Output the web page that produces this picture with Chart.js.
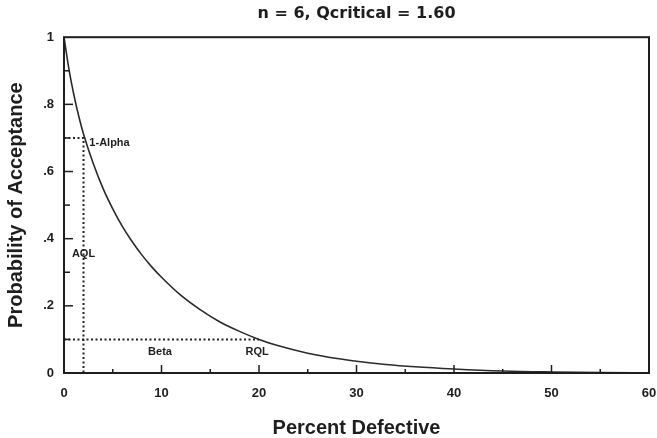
<!DOCTYPE html>
<html>
<head>
<meta charset="utf-8">
<script src="https://cdn.jsdelivr.net/npm/chart.js@4"></script>
<style>
  html, body { margin: 0; padding: 0; background: #fff; overflow: hidden; }
</style>
</head>
<body>
<canvas id="ocChart" width="657" height="438"></canvas>
<script>
// OC curve
const pctDefective = [0, 0.5, 1, 1.5, 2, 3, 4, 5, 6, 7, 8, 9, 10, 12, 14, 16, 18, 20, 22, 25, 28, 30, 33, 36, 40, 45, 50, 55, 60];
const probAccept = [1.0, 0.906, 0.83, 0.766, 0.712, 0.624, 0.55, 0.489, 0.436, 0.391, 0.351, 0.316, 0.285, 0.231, 0.188, 0.152, 0.124, 0.1, 0.081, 0.059, 0.043, 0.035, 0.0255, 0.0186, 0.012, 0.006, 0.003, 0.0012, 0.0004];

const aql = 2;
const oneMinusAlpha = 0.7;
const rql = 20;
const beta = 0.1;

const xTicks = [0, 10, 20, 30, 40, 50, 60];
const yTickLabels = ['0', '.2', '.4', '.6', '.8', '1'];

const chartTitle = 'n = 6, Qcritical = 1.60';

var ink = '#1e1e1e';
var helv = '"Liberation Sans", Arial, sans-serif';

function pts(xs, ys) {
  var out = [];
  for (var i = 0; i < xs.length; i++) out.push({x: xs[i], y: ys[i]});
  return out;
}

// box, inward ticks and the small labels
const framePlugin = {
  id: 'frame',
  afterDraw(chart) {
    var ctx = chart.ctx;
    var a = chart.chartArea;
    var xs = chart.scales.x, ys = chart.scales.y;
    ctx.save();
    ctx.strokeStyle = ink;
    ctx.lineWidth = 2;
    ctx.strokeRect(a.left, a.top, a.right - a.left, a.bottom - a.top);

    ctx.lineWidth = 1.5;
    for (var v = 5; v < 60; v += 5) {
      var px = xs.getPixelForValue(v);
      var len = (v % 10 === 0) ? 8 : 4;
      ctx.beginPath();
      ctx.moveTo(px, a.bottom);
      ctx.lineTo(px, a.bottom - len);
      ctx.stroke();
    }
    for (var k = 1; k < 10; k++) {
      var py = ys.getPixelForValue(k / 10);
      var l = (k % 2 === 0) ? 9 : 6;
      ctx.beginPath();
      ctx.moveTo(a.left, py);
      ctx.lineTo(a.left + l, py);
      ctx.stroke();
    }

    ctx.fillStyle = ink;
    ctx.font = 'bold 11px ' + helv;
    ctx.textBaseline = 'middle';
    ctx.textAlign = 'left';
    ctx.fillText('1-Alpha', xs.getPixelForValue(aql + 0.6), ys.getPixelForValue(0.685));
    ctx.textAlign = 'center';
    ctx.fillText('AQL', xs.getPixelForValue(aql), ys.getPixelForValue(0.355));
    ctx.fillText('Beta', xs.getPixelForValue(9.85), ys.getPixelForValue(0.062));
    ctx.fillText('RQL', xs.getPixelForValue(rql - 0.2), ys.getPixelForValue(0.062));
    ctx.restore();
  }
};

const data = {
  datasets: [{
    label: 'OC curve',
    data: pts(pctDefective, probAccept),
    borderColor: '#2a2a2a',
    borderWidth: 1.6,
    pointRadius: 0,
    cubicInterpolationMode: 'monotone'
  }, {
    label: 'AQL',
    data: [{x: 0, y: oneMinusAlpha}, {x: aql, y: oneMinusAlpha}, {x: aql, y: 0}],
    borderColor: '#222',
    borderWidth: 2,
    borderDash: [2, 2.5],
    pointRadius: 0
  }, {
    label: 'RQL',
    data: [{x: 0, y: beta}, {x: rql, y: beta}],
    borderColor: '#222',
    borderWidth: 2,
    borderDash: [2, 2.5],
    pointRadius: 0
  }]
};

const config = {
  type: 'line',
  data: data,
  plugins: [framePlugin],
  options: {
    responsive: false,
    animation: false,
    layout: { padding: 0 },
    plugins: {
      legend: { display: false },
      tooltip: { enabled: false },
      title: {
        display: true,
        text: chartTitle,
        fullSize: false,
        color: ink,
        font: { family: '"DejaVu Sans", sans-serif', size: 16, weight: 'bold', lineHeight: 1.2 },
        padding: { top: 4, bottom: 14 }
      }
    },
    scales: {
      x: {
        type: 'linear',
        min: 0,
        max: 60,
        grid: { display: false, drawTicks: false },
        border: { display: false },
        afterBuildTicks: function (s) { s.ticks = xTicks.map(function (v) { return {value: v}; }); },
        afterFit: function (s) { s.height = 65; s.paddingLeft = 0; s.paddingRight = 8; },
        ticks: {
          color: ink,
          padding: 13,
          autoSkip: false,
          maxRotation: 0,
          font: { family: helv, size: 13, weight: 'bold' }
        },
        title: {
          display: true,
          text: 'Percent Defective',
          color: ink,
          font: { family: helv, size: 20, weight: 'bold', lineHeight: 1.0 },
          padding: { top: 0, bottom: 0 }
        }
      },
      y: {
        min: 0,
        max: 1,
        grid: { display: false, drawTicks: false },
        border: { display: false },
        afterBuildTicks: function (s) {
          s.ticks = yTickLabels.map(function (t, i) { return {value: i * 0.2}; });
        },
        afterFit: function (s) { s.width = 64; },
        ticks: {
          color: ink,
          padding: 10,
          autoSkip: false,
          font: { family: helv, size: 13, weight: 'bold' },
          callback: function (v, i) { return yTickLabels[i]; }
        },
        title: {
          display: true,
          text: 'Probability of Acceptance',
          color: ink,
          font: { family: helv, size: 20, weight: 'bold', lineHeight: 1.2 },
          padding: { top: 4, bottom: 0 }
        }
      }
    }
  }
};

const ocChart = new Chart(document.getElementById('ocChart'), config);
</script>
</body>
</html>
